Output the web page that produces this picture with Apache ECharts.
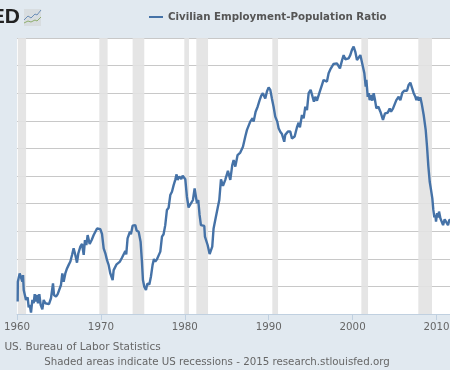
<!DOCTYPE html>
<html>
<head>
<meta charset="utf-8">
<title>Civilian Employment-Population Ratio</title>
<script src="https://cdn.jsdelivr.net/npm/echarts@6/dist/echarts.min.js"></script>
<style>
html, body { margin: 0; padding: 0; background: #e1e9f0; }
#chart { width: 450px; height: 370px; }
</style>
</head>
<body>
<div id="chart"></div>
<script>
var seriesName = 'Civilian Employment-Population Ratio';
var yearTicks = [1960, 1970, 1980, 1990, 2000, 2010];

// decimal years and percent
var years = [
  1960.08, 1960.1, 1960.32, 1960.52, 1960.64, 1960.72, 1960.8, 1961.0, 1961.07, 1961.27,
  1961.39, 1961.51, 1961.67, 1961.83, 1961.99, 1962.11, 1962.22, 1962.38, 1962.5, 1962.66,
  1962.82, 1963.02, 1963.18, 1963.38, 1963.58, 1963.81, 1964.05, 1964.21, 1964.29, 1964.41,
  1964.65, 1964.85, 1965.05, 1965.24, 1965.4, 1965.56, 1965.76, 1965.96, 1966.16, 1966.36,
  1966.56, 1966.75, 1966.95, 1967.15, 1967.31, 1967.55, 1967.75, 1967.95, 1968.1, 1968.26,
  1968.42, 1968.66, 1968.9, 1969.14, 1969.34, 1969.54, 1969.73, 1969.93, 1970.13, 1970.33,
  1970.53, 1970.72, 1970.92, 1971.12, 1971.4, 1971.52, 1971.71, 1971.87, 1972.03, 1972.27,
  1972.51, 1972.71, 1972.91, 1973.02, 1973.18, 1973.38, 1973.46, 1973.58, 1973.78, 1974.1,
  1974.26, 1974.5, 1974.73, 1974.89, 1975.01, 1975.17, 1975.37, 1975.53, 1975.77, 1975.96,
  1976.16, 1976.32, 1976.48, 1976.68, 1976.88, 1977.08, 1977.28, 1977.47, 1977.67, 1977.87,
  1978.07, 1978.27, 1978.47, 1978.67, 1978.86, 1979.02, 1979.14, 1979.34, 1979.58, 1979.74,
  1979.94, 1980.06, 1980.25, 1980.45, 1980.65, 1980.97, 1981.17, 1981.29, 1981.45, 1981.6,
  1981.76, 1981.92, 1982.1, 1982.32, 1982.4, 1982.56, 1982.72, 1982.96, 1983.12, 1983.27,
  1983.43, 1983.67, 1983.91, 1984.11, 1984.31, 1984.55, 1984.82, 1985.14, 1985.42, 1985.66,
  1985.82, 1986.02, 1986.29, 1986.61, 1986.93, 1987.21, 1987.41, 1987.57, 1987.8, 1988.08,
  1988.2, 1988.44, 1988.68, 1988.92, 1989.1, 1989.3, 1989.59, 1989.79, 1989.99, 1990.19,
  1990.38, 1990.58, 1990.78, 1991.02, 1991.18, 1991.38, 1991.58, 1991.85, 1991.97, 1992.29,
  1992.57, 1992.77, 1993.09, 1993.36, 1993.56, 1993.72, 1993.96, 1994.16, 1994.36, 1994.56,
  1994.76, 1995.0, 1995.23, 1995.39, 1995.55, 1995.75, 1996.03, 1996.35, 1996.54, 1996.74,
  1996.94, 1997.14, 1997.34, 1997.54, 1997.73, 1998.13, 1998.33, 1998.49, 1998.73, 1998.93,
  1999.13, 1999.52, 1999.72, 1999.92, 2000.12, 2000.32, 2000.52, 2000.72, 2000.92, 2001.12,
  2001.4, 2001.56, 2001.64, 2001.8, 2001.92, 2002.03, 2002.19, 2002.35, 2002.51, 2002.67,
  2002.83, 2003.07, 2003.31, 2003.62, 2003.86, 2004.18, 2004.42, 2004.58, 2004.82, 2005.05,
  2005.21, 2005.49, 2005.69, 2005.93, 2006.17, 2006.48, 2006.68, 2006.88, 2007.08, 2007.28,
  2007.48, 2007.6, 2007.76, 2007.91, 2008.07, 2008.23, 2008.47, 2008.71, 2008.87, 2009.03,
  2009.19, 2009.35, 2009.5, 2009.62, 2009.74, 2009.86, 2009.94, 2010.06, 2010.18, 2010.3,
  2010.46, 2010.66, 2010.78, 2010.97, 2011.17, 2011.37, 2011.53, 2011.65, 2011.8
];
var ratios = [
  55.45, 56.17, 56.47, 56.47, 56.17, 56.41, 55.87, 55.81, 55.51, 55.6,
  55.24, 55.33, 55.05, 55.51, 55.39, 55.72, 55.45, 55.69, 55.39, 55.72,
  55.33, 55.17, 55.51, 55.39, 55.45, 55.36, 55.57, 55.6, 56.11, 55.69,
  55.63, 55.72, 55.65, 56.05, 56.47, 56.17, 56.47, 56.65, 56.78, 56.9,
  57.14, 57.38, 57.14, 56.86, 57.2, 57.44, 57.54, 57.14, 57.68, 57.5,
  57.86, 57.54, 57.68, 57.86, 57.92, 58.1, 58.14, 58.07, 57.9, 57.38,
  57.2, 56.96, 56.78, 56.47, 56.23, 56.59, 56.63, 56.8, 56.75, 56.9,
  57.04, 57.11, 57.28, 57.16, 57.74, 57.8, 57.98, 57.89, 58.2, 58.22,
  58.02, 57.98, 57.62, 56.9, 56.23, 55.99, 55.87, 56.1, 56.07, 56.35,
  56.78, 56.99, 56.9, 56.98, 56.99, 57.26, 57.8, 57.89, 58.22, 58.77,
  58.85, 59.31, 59.43, 59.67, 59.86, 60.06, 59.86, 59.98, 59.89, 60.01,
  60.08, 59.88, 59.25, 58.86, 58.86, 59.13, 59.55, 59.59, 59.01, 59.13,
  58.59, 58.22, 58.26, 58.19, 57.8, 57.8, 57.5, 57.17, 57.13, 57.44,
  58.1, 58.47, 58.83, 59.13, 59.88, 59.64, 59.86, 60.19, 59.86, 60.4,
  60.58, 60.34, 60.76, 60.85, 61.06, 61.43, 61.67, 61.61, 61.97, 62.09,
  61.97, 62.33, 62.51, 62.75, 62.9, 63.0, 62.81, 63.06, 63.21, 63.12,
  62.81, 62.51, 62.15, 61.97, 61.73, 61.6, 61.52, 61.24, 61.49, 61.61,
  61.61, 61.36, 61.43, 61.76, 61.93, 61.76, 62.21, 62.09, 62.51, 62.39,
  63.0, 63.12, 63.12, 62.69, 62.87, 62.73, 63.0, 63.3, 63.48, 63.48,
  63.42, 63.72, 63.86, 63.9, 64.06, 64.08, 64.06, 63.9, 64.18, 64.38,
  64.23, 64.26, 64.38, 64.57, 64.69, 64.5, 64.2, 64.18, 64.38, 64.32,
  63.72, 63.24, 63.48, 62.87, 63.0, 62.75, 62.93, 62.73, 63.0, 62.75,
  62.45, 62.51, 62.33, 62.03, 62.27, 62.29, 62.45, 62.33, 62.45, 62.42,
  62.75, 62.87, 62.75, 63.02, 63.09, 63.09, 63.3, 63.38, 63.33, 63.0,
  62.87, 62.75, 62.87, 62.73, 62.85, 62.63, 62.21, 61.67, 61.06, 60.34,
  59.79, 59.49, 59.19, 58.77, 58.5, 58.59, 58.35, 58.65, 58.5, 58.71,
  58.47, 58.41, 58.22, 58.43, 58.41, 58.22, 58.41, 58.35, 58.4
];
var recessionStart = [1960.1, 1969.81, 1973.78, 1979.94, 1981.37, 1990.43, 2001.04, 2007.83];
var recessionEnd = [1961.08, 1970.8, 1975.17, 1980.5, 1982.77, 1991.11, 2001.84, 2009.46];

var myChart = echarts.init(document.getElementById('chart'));
var font = '"DejaVu Sans", sans-serif';

var option = {
  animation: false,
  backgroundColor: '#e1e9f0',
  grid: { left: 17, width: 436.3, top: 38, bottom: 56, outerBoundsMode: 'none', show: true, backgroundColor: '#fff', borderWidth: 0 },
  legend: {
    left: 149, top: 12, padding: 0,
    icon: 'rect',
    itemWidth: 14, itemHeight: 2, itemGap: 5,
    textStyle: { color: '#555', fontFamily: font, fontWeight: 'bold', fontSize: 10.25 },
    data: [seriesName]
  },
  xAxis: {
    type: 'value',
    min: 1960, max: 2012, interval: 10,
    splitLine: { show: false },
    axisLine: { onZero: false, lineStyle: { color: '#c0d0e0', width: 1 } },
    axisTick: { show: true, length: 6, lineStyle: { color: '#c0d0e0' } },
    axisLabel: {
      color: '#666', fontFamily: font, fontSize: 10.25, margin: 8,
      showMaxLabel: false,
      formatter: function (v) { return yearTicks.indexOf(v) >= 0 ? String(v) : ''; }
    }
  },
  yAxis: {
    type: 'value',
    min: 55, max: 65, interval: 1,
    axisLine: { show: false }, axisTick: { show: false }, axisLabel: { show: false },
    splitLine: { lineStyle: { color: '#c8c8c8', width: 1 } }
  },
  series: [{
    name: seriesName,
    type: 'line',
    symbol: 'none',
    lineStyle: { color: '#4572a7', width: 2.4 },
    itemStyle: { color: '#4572a7' },
    data: years.map(function (y, i) { return [y, ratios[i]]; }),
    markArea: {
      silent: true,
      itemStyle: { color: '#e2e2e2', opacity: 0.9 },
      data: recessionStart.map(function (s, i) { return [{ xAxis: s }, { xAxis: recessionEnd[i] }]; })
    }
  }],
  graphic: [
    { type: 'text', x: 20, y: 7, style: { text: 'FRED', align: 'right', fill: '#222', font: 'bold 21px "Liberation Sans", sans-serif' } },
    { type: 'rect', shape: { x: 24, y: 9, width: 17, height: 17 }, style: { fill: '#d8dde0' } },
    { type: 'polyline', shape: { points: [[24, 20], [28, 16], [31, 18], [35, 14], [37, 15], [41, 10]] }, style: { stroke: '#6c8fb8', lineWidth: 1, fill: null } },
    { type: 'polyline', shape: { points: [[24, 23], [28, 21], [31, 22], [35, 20], [37, 21], [41, 17]] }, style: { stroke: '#8fae6e', lineWidth: 1, fill: null } },
    { type: 'text', x: -38.5, y: 342, style: { text: 'Source: US. Bureau of Labor Statistics', fill: '#666', font: '10.5px "DejaVu Sans", sans-serif' } },
    { type: 'text', x: 217, y: 357, style: { text: 'Shaded areas indicate US recessions - 2015 research.stlouisfed.org', align: 'center', fill: '#666', font: '10.25px "DejaVu Sans", sans-serif' } }
  ]
};
myChart.setOption(option);
</script>
</body>
</html>
